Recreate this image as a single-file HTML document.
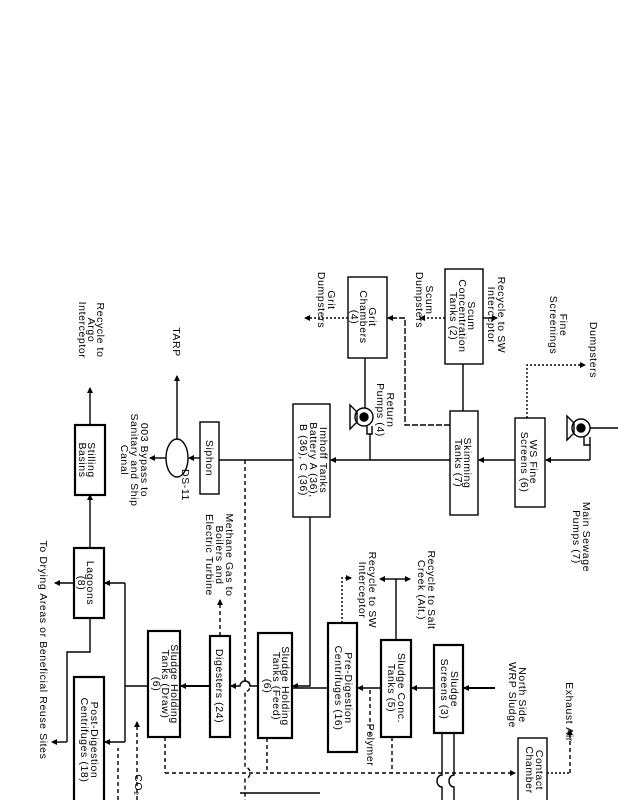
<!DOCTYPE html>
<html><head><meta charset="utf-8"><style>
html,body{margin:0;padding:0;background:#fff;}
svg{display:block;}
text{font-family:"Liberation Sans",sans-serif;font-size:10.5px;fill:#000;letter-spacing:0.6px;text-anchor:middle;}
</style></head><body>
<svg width="618" height="800" viewBox="0 0 618 800" xmlns="http://www.w3.org/2000/svg">
<defs>
<marker id="a" markerWidth="6" markerHeight="6" refX="5" refY="3" orient="auto" markerUnits="userSpaceOnUse"><path d="M0,0 L6,3 L0,6 z" fill="#000"/></marker>
</defs>
<g fill="none" stroke="#000" stroke-width="1.4">
<rect x="445" y="269" width="38" height="95"/>
<rect x="348" y="277" width="39" height="81"/>
<rect x="450" y="411" width="28" height="104"/>
<rect x="515" y="418" width="30" height="89"/>
<rect x="293" y="404" width="37" height="113"/>
<rect x="75" y="425" width="30" height="70" stroke-width="2.2"/>
<rect x="200" y="422" width="19" height="72"/>
<ellipse cx="177" cy="458" rx="11" ry="19"/>
<rect x="74" y="548" width="30" height="70" stroke-width="2.2"/>
<rect x="74" y="677" width="30" height="130" stroke-width="2.2"/>
<rect x="148" y="631" width="32" height="106" stroke-width="2.2"/>
<rect x="210" y="636" width="20" height="101" stroke-width="2.2"/>
<rect x="258" y="633" width="34" height="105" stroke-width="2.2"/>
<rect x="328" y="623" width="29" height="129" stroke-width="2.2"/>
<rect x="381" y="640" width="30" height="97" stroke-width="2.2"/>
<rect x="434" y="645" width="29" height="88" stroke-width="2.2"/>
<rect x="518" y="738" width="29" height="70"/>
<circle cx="364" cy="417" r="9"/><circle cx="364" cy="417" r="4" fill="#000"/>
<path d="M350,405 L357,412 L357,422 L350,429 Z"/>
<path d="M367,426 L367,434 L372,434 L372,426"/>
<circle cx="581" cy="428" r="9"/><circle cx="581" cy="428" r="4" fill="#000"/>
<path d="M567,416 L574,423 L574,433 L567,440 Z"/>
<path d="M584,437 L584,445 L590,445 L590,437"/>
<line x1="618" y1="428" x2="590" y2="428"/>
<line x1="590" y1="445" x2="590" y2="460"/>
<line x1="590" y1="460" x2="546" y2="460" marker-end="url(#a)"/>
<line x1="515" y1="460" x2="479" y2="460" marker-end="url(#a)"/>
<line x1="450" y1="460" x2="331" y2="460" marker-end="url(#a)"/>
<line x1="370" y1="460" x2="370" y2="434"/>
<line x1="365" y1="358" x2="365" y2="408"/>
<path d="M450,425 L405,425 L405,318 L388,318" marker-end="url(#a)" stroke-dasharray="6,2"/>
<line x1="463" y1="411" x2="463" y2="364"/>
<line x1="483" y1="318" x2="497" y2="318" marker-end="url(#a)"/>
<line x1="445" y1="318" x2="420" y2="318" stroke-dasharray="2,2" marker-end="url(#a)"/>
<line x1="348" y1="318" x2="305" y2="318" stroke-dasharray="2,2" marker-end="url(#a)"/>
<path d="M527,418 L527,365 L585,365" stroke-dasharray="2,2" marker-end="url(#a)"/>
<line x1="293" y1="460" x2="219" y2="460"/>
<line x1="200" y1="458" x2="189" y2="458" marker-end="url(#a)"/>
<line x1="166" y1="458" x2="150" y2="458" marker-end="url(#a)"/>
<line x1="177" y1="439" x2="177" y2="376" marker-end="url(#a)"/>
<line x1="90" y1="425" x2="90" y2="388" marker-end="url(#a)"/>
<line x1="90" y1="548" x2="90" y2="495" marker-end="url(#a)"/>
<path d="M310,517 L310,686 L293,686" marker-end="url(#a)"/>
<path d="M258,686 L250,686 A5,5 0 0 0 240,686 L231,686" marker-end="url(#a)"/>
<line x1="210" y1="686" x2="181" y2="686" marker-end="url(#a)" stroke-width="2"/>
<line x1="148" y1="686" x2="125" y2="686"/>
<path d="M125,583 L125,742"/>
<line x1="125" y1="583" x2="105" y2="583" marker-end="url(#a)"/>
<line x1="125" y1="742" x2="105" y2="742" marker-end="url(#a)"/>
<line x1="74" y1="583" x2="55" y2="583" marker-end="url(#a)"/>
<path d="M90,618 L90,652 L67,652 L67,742"/>
<line x1="67" y1="742" x2="52" y2="742" marker-end="url(#a)"/>
<line x1="118" y1="800" x2="118" y2="748" stroke-dasharray="4,3"/>
<line x1="137" y1="800" x2="137" y2="722" stroke-dasharray="4,3" marker-end="url(#a)"/>
<line x1="220" y1="636" x2="220" y2="600" stroke-dasharray="4,3" marker-end="url(#a)"/>
<path d="M245,460 L245,680 A5,6 0 0 1 245,692 L245,767 A5,6 0 0 1 245,779 L245,800" stroke-dasharray="4,3"/>
<line x1="165" y1="773" x2="515" y2="773" stroke-dasharray="4,3" marker-end="url(#a)"/>
<line x1="165" y1="737" x2="165" y2="773" stroke-dasharray="4,3"/>
<line x1="267" y1="738" x2="267" y2="773" stroke-dasharray="4,3"/>
<line x1="240" y1="793" x2="320" y2="793"/>
<line x1="495" y1="688" x2="464" y2="688" marker-end="url(#a)" stroke-width="2"/>
<line x1="434" y1="688" x2="412" y2="688" marker-end="url(#a)" stroke-width="1.6"/>
<line x1="381" y1="688" x2="358" y2="688" marker-end="url(#a)" stroke-width="1.6"/>
<line x1="328" y1="688" x2="293" y2="688" stroke-width="1.6"/>
<line x1="370" y1="690" x2="370" y2="735" stroke-dasharray="4,3"/>
<line x1="396" y1="640" x2="396" y2="579"/>
<line x1="396" y1="579" x2="380" y2="579" marker-end="url(#a)"/>
<line x1="396" y1="579" x2="410" y2="579" marker-end="url(#a)"/>
<path d="M342,623 L342,578 L351,578" stroke-dasharray="2,2" marker-end="url(#a)"/>
<line x1="392" y1="737" x2="392" y2="773" stroke-dasharray="4,3"/>
<path d="M442,733 L442,775 A5,6 0 0 0 442,787 L442,800"/>
<path d="M454,733 L454,775 A5,6 0 0 0 454,787 L454,800"/>
<line x1="570" y1="773" x2="570" y2="730" stroke-dasharray="4,3" marker-end="url(#a)"/>
<line x1="547" y1="773" x2="570" y2="773" stroke-dasharray="2,2"/>
</g>
<g>
<text transform="translate(468,316) rotate(90)">Scum</text>
<text transform="translate(459,316) rotate(90)">Concentration</text>
<text transform="translate(450,316) rotate(90)">Tanks (2)</text>
<text transform="translate(369,317) rotate(90)">Grit</text>
<text transform="translate(360,317) rotate(90)">Chambers</text>
<text transform="translate(351,317) rotate(90)">(4)</text>
<text transform="translate(464,463) rotate(90)">Skimming</text>
<text transform="translate(455,463) rotate(90)">Tanks (7)</text>
<text transform="translate(530,462) rotate(90)">WS Fine</text>
<text transform="translate(521,462) rotate(90)">Screens (6)</text>
<text transform="translate(320,460) rotate(90)">Imhoff Tanks</text>
<text transform="translate(310,460) rotate(90)">Battery A (36),</text>
<text transform="translate(300,460) rotate(90)">B (36), C (36)</text>
<text transform="translate(88,460) rotate(90)">Stilling</text>
<text transform="translate(79,460) rotate(90)">Basins</text>
<text transform="translate(206,458) rotate(90)">Siphon</text>
<text transform="translate(87,583) rotate(90)">Lagoons</text>
<text transform="translate(78,583) rotate(90)">(8)</text>
<text transform="translate(91,740) rotate(90)">Post-Digestion</text>
<text transform="translate(81,740) rotate(90)">Centrifuges (18)</text>
<text transform="translate(171,684) rotate(90)">Sludge Holding</text>
<text transform="translate(162,684) rotate(90)">Tanks (Draw)</text>
<text transform="translate(153,684) rotate(90)">(6)</text>
<text transform="translate(216,686) rotate(90)">Digesters (24)</text>
<text transform="translate(282,686) rotate(90)">Sludge Holding</text>
<text transform="translate(273,686) rotate(90)">Tanks (Feed)</text>
<text transform="translate(264,686) rotate(90)">(6)</text>
<text transform="translate(345,688) rotate(90)">Pre-Digestion</text>
<text transform="translate(335,688) rotate(90)">Centrifuges (16)</text>
<text transform="translate(398,688) rotate(90)">Sludge Conc.</text>
<text transform="translate(388,688) rotate(90)">Tanks (5)</text>
<text transform="translate(451,689) rotate(90)">Sludge</text>
<text transform="translate(441,689) rotate(90)">Screens (3)</text>
<text transform="translate(536,770) rotate(90)">Contact</text>
<text transform="translate(526,770) rotate(90)">Chamber</text>
<text transform="translate(97,330) rotate(90)">Recycle to</text>
<text transform="translate(88,330) rotate(90)">Argo</text>
<text transform="translate(79,330) rotate(90)">Interceptor</text>
<text transform="translate(173,342) rotate(90)">TARP</text>
<text transform="translate(141,460) rotate(90)">003 Bypass to</text>
<text transform="translate(131,460) rotate(90)">Sanitary and Ship</text>
<text transform="translate(121,460) rotate(90)">Canal</text>
<text transform="translate(182,485) rotate(90)">DS-11</text>
<text transform="translate(226,555) rotate(90)">Methane Gas to</text>
<text transform="translate(216,555) rotate(90)">Boilers and</text>
<text transform="translate(206,555) rotate(90)">Electric Turbine</text>
<text transform="translate(40,650) rotate(90)">To Drying Areas or Beneficial Reuse Sites</text>
<text transform="translate(135,785) rotate(90)">CO₂</text>
<text transform="translate(367,745) rotate(90)">Polymer</text>
<text transform="translate(428,590) rotate(90)">Recycle to Salt</text>
<text transform="translate(418,590) rotate(90)">Creek (Alt.)</text>
<text transform="translate(369,590) rotate(90)">Recycle to SW</text>
<text transform="translate(359,590) rotate(90)">Interceptor</text>
<text transform="translate(519,695) rotate(90)">North Side</text>
<text transform="translate(509,695) rotate(90)">WRP Sludge</text>
<text transform="translate(566,712) rotate(90)">Exhaust Air</text>
<text transform="translate(583,537) rotate(90)">Main Sewage</text>
<text transform="translate(573,537) rotate(90)">Pumps (7)</text>
<text transform="translate(387,410) rotate(90)">Return</text>
<text transform="translate(377,410) rotate(90)">Pumps (4)</text>
<text transform="translate(498,315) rotate(90)">Recycle to SW</text>
<text transform="translate(488,315) rotate(90)">Interceptor</text>
<text transform="translate(426,300) rotate(90)">Scum</text>
<text transform="translate(416,300) rotate(90)">Dumpsters</text>
<text transform="translate(328,300) rotate(90)">Grit</text>
<text transform="translate(318,300) rotate(90)">Dumpsters</text>
<text transform="translate(560,325) rotate(90)">Fine</text>
<text transform="translate(550,325) rotate(90)">Screenings</text>
<text transform="translate(590,350) rotate(90)">Dumpsters</text>
</g>
</svg>
</body></html>
